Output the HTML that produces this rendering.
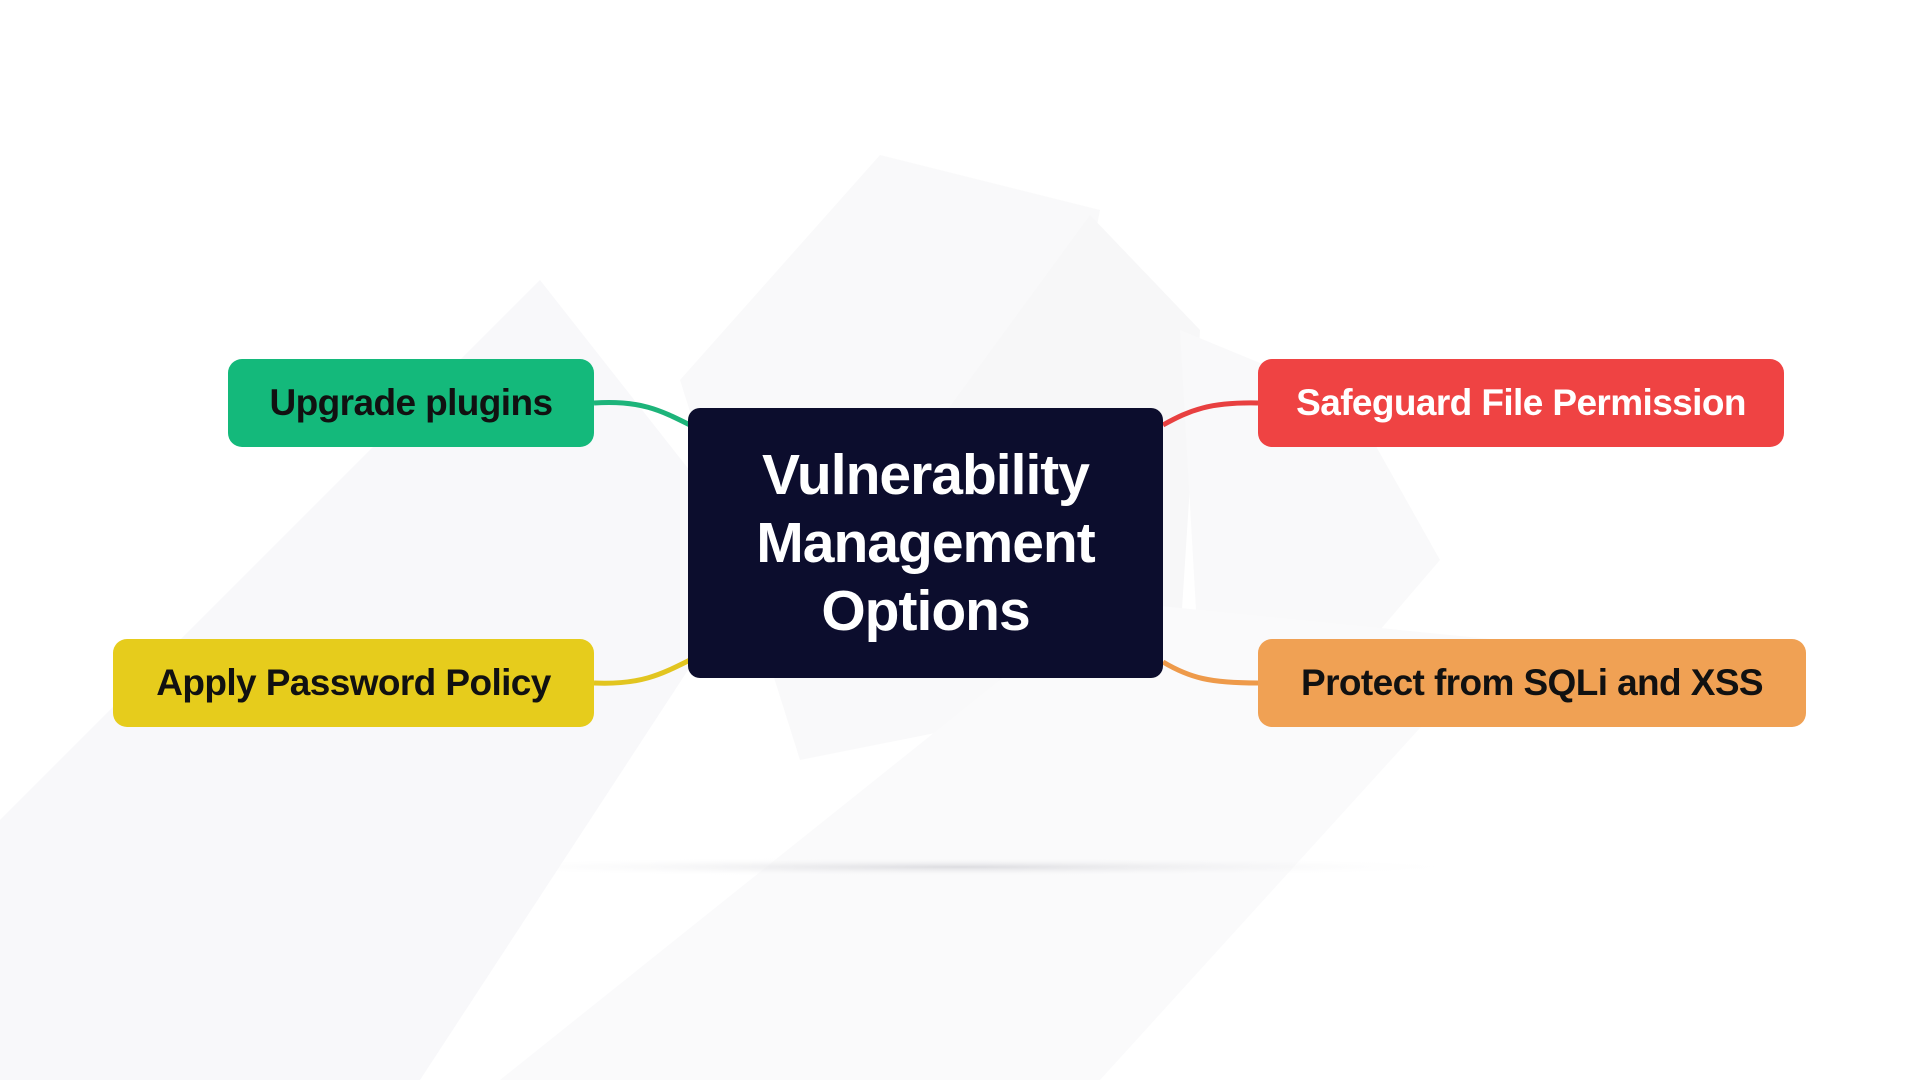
<!DOCTYPE html>
<html><head><meta charset="utf-8"><style>
html,body{margin:0;padding:0;width:1920px;height:1080px;background:#fff;overflow:hidden;font-family:"Liberation Sans",sans-serif;}
.box{position:absolute;border-radius:14px;display:flex;align-items:center;justify-content:center;font-weight:bold;font-size:37px;color:#111;letter-spacing:-0.6px;}
</style></head><body>
<svg width="1920" height="1080" style="position:absolute;left:0;top:0">
<defs><radialGradient id="sh" cx="50%" cy="50%" r="50%"><stop offset="0" stop-color="#dcdce0"/><stop offset="1" stop-color="#fff" stop-opacity="0"/></radialGradient></defs>
<polygon points="0,820 540,280 760,560 420,1080 0,1080" fill="#f8f8fa"/>
<polygon points="680,380 880,155 1100,210 1000,720 800,760" fill="#f9f9fa"/>
<polygon points="940,420 1090,215 1200,330 1180,640 1010,730" fill="#f7f7f8"/>
<polygon points="1180,330 1350,400 1440,560 1320,700 1200,680" fill="#f9f9fa"/>
<polygon points="500,1080 1100,600 1500,640 1100,1080" fill="#fafafb"/>
<ellipse cx="960" cy="867" rx="520" ry="10" fill="url(#sh)"/>
<path d="M594,403 C640,400 660,410 690,425" stroke="#1db47a" stroke-width="5" fill="none"/>
<path d="M594,683 C640,685 660,675 690,660" stroke="#e2c520" stroke-width="5" fill="none"/>
<path d="M1163,425 C1190,410 1210,402 1258,403" stroke="#e84040" stroke-width="5" fill="none"/>
<path d="M1163,662 C1190,678 1210,683 1258,683" stroke="#ee9a4a" stroke-width="5" fill="none"/>
</svg>
<div class="box" style="left:228px;top:359px;width:366px;height:88px;background:#14b97b;">Upgrade plugins</div>
<div class="box" style="left:113px;top:639px;width:481px;height:88px;background:#e6cc1c;">Apply Password Policy</div>
<div class="box" style="left:1258px;top:359px;width:526px;height:88px;background:#ef4343;color:#fff;">Safeguard File Permission</div>
<div class="box" style="left:1258px;top:639px;width:548px;height:88px;background:#f0a154;">Protect from SQLi and XSS</div>
<div class="box" style="left:688px;top:408px;width:475px;height:270px;background:#0c0d2d;color:#fff;font-size:57px;line-height:68px;text-align:center;border-radius:12px;letter-spacing:-1px;">Vulnerability<br>Management<br>Options</div>
</body></html>
